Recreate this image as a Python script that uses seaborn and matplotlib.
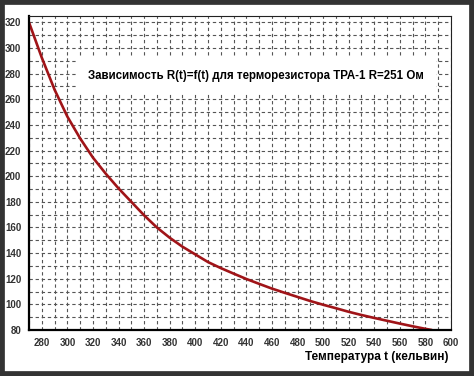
import numpy as np
import pandas as pd
import matplotlib
matplotlib.use("Agg")
import matplotlib.pyplot as plt
from matplotlib.ticker import MultipleLocator, FuncFormatter
from matplotlib.patches import Rectangle
import seaborn as sns

# Data
temperature = [270, 280, 290, 300, 310, 320, 330, 340, 350, 360, 370, 380,
               390, 400, 410, 420, 430, 440, 450, 460, 470, 480, 490, 500,
               510, 520, 530, 540, 550, 560, 570, 580, 585]
resistance = [320, 292.5, 267.5, 246.5, 229.5, 214.5, 202, 190.5, 180, 169.5,
              160, 152, 145, 139, 133, 128.3, 124, 119.8, 116, 112.3, 109,
              105.8, 102.6, 99.7, 97, 94.2, 91.7, 89.4, 87.2, 85, 82.9, 80.9, 80]
title_text = "Зависимость R(t)=f(t) для терморезистора ТРА-1 R=251 Ом"
xlabel_text = "Температура t (кельвин)"

df = pd.DataFrame({"t": temperature, "R": resistance})

sns.set_style("white")
plt.rcParams["font.family"] = ["Liberation Sans", "DejaVu Sans"]

fig = plt.figure(figsize=(4.74, 3.76), dpi=100)
fig.patch.set_facecolor("white")
ax = fig.add_axes([29/474, 1-330/376, (451-29)/474, (330-16)/376])

sns.lineplot(data=df, x="t", y="R", ax=ax, color="#a01418", linewidth=1.9)

ax.set_xlim(270, 600)
ax.set_ylim(80, 325)

for axis in (ax.xaxis, ax.yaxis):
    axis.set_major_locator(MultipleLocator(10))
    axis.set_minor_locator(MultipleLocator(5))
    axis.set_major_formatter(FuncFormatter(lambda v, p: f"{int(round(v))}" if int(round(v)) % 20 == 0 else ""))

ax.grid(True, which="major", linestyle=(0, (3, 2.5)), color="#555555", linewidth=0.8)
ax.tick_params(which="major", direction="inout", length=7, width=1.2, color="black",
               labelsize=7, labelcolor="#333333", pad=2)
ax.tick_params(which="minor", direction="inout", length=5, width=1.0, color="black")
for lab in ax.get_xticklabels() + ax.get_yticklabels():
    lab.set_fontweight("bold")
    lab.set_family(["Liberation Sans Narrow", "Liberation Sans"])

for side in ("top", "right"):
    ax.spines[side].set_linewidth(0.8)
    ax.spines[side].set_color("#222222")
for side in ("left", "bottom"):
    ax.spines[side].set_linewidth(1.6)
    ax.spines[side].set_color("black")

ax.set_xlabel("")
ax.set_ylabel("")

ax.text((256-29)/422, (330-76)/314, title_text, transform=ax.transAxes,
        ha="center", va="center", fontsize=8.3, fontweight="bold", color="black",
        bbox=dict(facecolor="white", edgecolor="none", pad=9))

fig.text(377/474, 1-357/376, xlabel_text, ha="center", va="center",
         fontsize=8.5, fontweight="bold", color="black")

# dark outer frame
fig.patches.append(Rectangle((0, 0), 1, 1, transform=fig.transFigure, fill=False,
                             edgecolor="#333333", linewidth=7, zorder=10))

fig.savefig("out.png", dpi=100, facecolor="white")
